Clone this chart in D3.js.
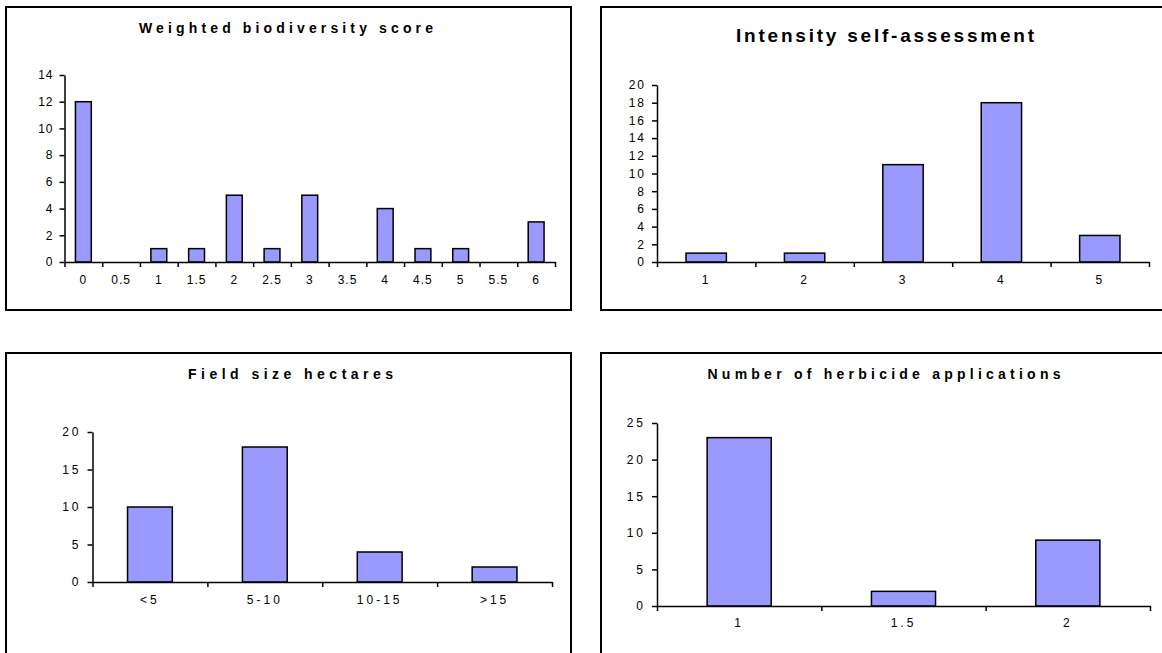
<!DOCTYPE html>
<html>
<head>
<meta charset="utf-8">
<script src="https://cdn.jsdelivr.net/npm/d3@7"></script>
<style>
  html, body { margin: 0; padding: 0; background: #fff; }
  svg { display: block; font-family: "Liberation Sans", Arial, sans-serif; }
</style>
</head>
<body>
<svg id="chart" width="1162" height="653"></svg>
<script>
// Survey histograms (counts of fields per class)
const biodivCategories = ["0", "0.5", "1", "1.5", "2", "2.5", "3", "3.5", "4", "4.5", "5", "5.5", "6"];
const biodivCounts     = [12, 0, 1, 1, 5, 1, 5, 0, 4, 1, 1, 0, 3];
const biodivTicks      = [0, 2, 4, 6, 8, 10, 12, 14];

const intensityCategories = ["1", "2", "3", "4", "5"];
const intensityCounts     = [1, 1, 11, 18, 3];
const intensityTicks      = [0, 2, 4, 6, 8, 10, 12, 14, 16, 18, 20];

const fieldSizeCategories = ["<5", "5-10", "10-15", ">15"];
const fieldSizeCounts     = [10, 18, 4, 2];
const fieldSizeTicks      = [0, 5, 10, 15, 20];

const herbicideCategories = ["1", "1.5", "2"];
const herbicideCounts     = [23, 2, 9];
const herbicideTicks      = [0, 5, 10, 15, 20, 25];

const titles = [
  "Weighted biodiversity score",
  "Intensity self-assessment",
  "Field size hectares",
  "Number of herbicide applications"
];

const BAR_FILL = "#9999ff";

// Panel layout: frame, plot area and text styling for each histogram
const panels = [
  { title: titles[0], cats: biodivCategories, vals: biodivCounts, ticks: biodivTicks,
    frame: [6, 7, 571, 310], plot: { x0: 64.5, x1: 555, y0: 262, y1: 75 },
    titleX: 286, titleY: 33, titleSize: 14, titleLen: 294,
    tickSize: 12, tickSpacing: 1, xLabelY: 284, barFrac: 0.42 },
  { title: titles[1], cats: intensityCategories, vals: intensityCounts, ticks: intensityTicks,
    frame: [601, 7, 1172, 310], plot: { x0: 657, x1: 1149, y0: 262, y1: 85 },
    titleX: 885, titleY: 42, titleSize: 19, titleLen: 298,
    tickSize: 12, tickSpacing: 2, xLabelY: 284, barFrac: 0.41 },
  { title: titles[2], cats: fieldSizeCategories, vals: fieldSizeCounts, ticks: fieldSizeTicks,
    frame: [6, 353, 571, 664], plot: { x0: 92.5, x1: 552, y0: 582, y1: 432 },
    titleX: 290.5, titleY: 379, titleSize: 14, titleLen: 205,
    tickSize: 12, tickSpacing: 3, xLabelY: 604, barFrac: 0.39 },
  { title: titles[3], cats: herbicideCategories, vals: herbicideCounts, ticks: herbicideTicks,
    frame: [601, 353, 1172, 664], plot: { x0: 657, x1: 1150, y0: 606, y1: 423 },
    titleX: 884, titleY: 379, titleSize: 14, titleLen: 353,
    tickSize: 12, tickSpacing: 3, xLabelY: 627, barFrac: 0.39 }
];

const svg = d3.select("#chart");
svg.append("rect").attr("width", 1162).attr("height", 653).attr("fill", "#fff");

panels.forEach(p => {
  const g = svg.append("g");
  const [fx0, fy0, fx1, fy1] = p.frame;

  // chart frame
  g.append("rect")
    .attr("x", fx0).attr("y", fy0)
    .attr("width", fx1 - fx0).attr("height", fy1 - fy0)
    .attr("fill", "#fff").attr("stroke", "#000").attr("stroke-width", 2);

  // title
  g.append("text")
    .attr("x", p.titleX).attr("y", p.titleY)
    .attr("text-anchor", "middle")
    .attr("font-size", p.titleSize).attr("font-weight", "bold")
    .attr("textLength", p.titleLen).attr("lengthAdjust", "spacing")
    .attr("fill", "#000")
    .text(p.title);

  const x = d3.scaleBand().domain(p.cats).range([p.plot.x0, p.plot.x1]).padding(0);
  const yMax = p.ticks[p.ticks.length - 1];
  const y = d3.scaleLinear().domain([0, yMax]).range([p.plot.y0, p.plot.y1]);

  // bars
  const bw = x.bandwidth() * p.barFrac;
  g.selectAll("rect.bar").data(p.vals).join("rect")
    .attr("class", "bar")
    .attr("x", (d, i) => x(p.cats[i]) + (x.bandwidth() - bw) / 2)
    .attr("y", d => y(d))
    .attr("width", bw)
    .attr("height", d => y(0) - y(d))
    .attr("fill", BAR_FILL)
    .attr("stroke", "#000")
    .attr("stroke-width", 1.5);

  // y axis
  const yAxis = g.append("g")
    .attr("transform", `translate(${p.plot.x0},0)`)
    .call(d3.axisLeft(y).tickValues(p.ticks).tickSize(5).tickSizeOuter(0).tickPadding(6));
  yAxis.select(".domain").attr("stroke", "#000").attr("stroke-width", 1.5);
  yAxis.selectAll(".tick line").attr("stroke", "#000").attr("stroke-width", 1.5);
  yAxis.selectAll(".tick text")
    .attr("font-size", p.tickSize)
    .attr("font-family", "Liberation Sans, Arial, sans-serif")
    .style("letter-spacing", p.tickSpacing + "px")
    .attr("fill", "#000");

  // x axis: boundary tick marks between categories
  const edges = d3.scaleLinear().domain([0, p.cats.length]).range([p.plot.x0, p.plot.x1]);
  const xAxis = g.append("g")
    .attr("transform", `translate(0,${p.plot.y0})`)
    .call(d3.axisBottom(edges).tickValues(d3.range(0, p.cats.length + 1))
      .tickSize(5).tickSizeOuter(0).tickFormat(""));
  xAxis.select(".domain").attr("stroke", "#000").attr("stroke-width", 1.5);
  xAxis.selectAll(".tick line").attr("stroke", "#000").attr("stroke-width", 1.5);

  // category labels centred in each band
  const labels = g.append("g")
    .attr("transform", `translate(0,${p.xLabelY})`)
    .call(d3.axisBottom(x).tickSize(0).tickPadding(0));
  labels.select(".domain").remove();
  labels.selectAll(".tick text")
    .attr("dy", 0).attr("y", 0)
    .attr("font-size", p.tickSize)
    .attr("font-family", "Liberation Sans, Arial, sans-serif")
    .style("letter-spacing", p.tickSpacing + "px")
    .attr("fill", "#000");
});
</script>
</body>
</html>
